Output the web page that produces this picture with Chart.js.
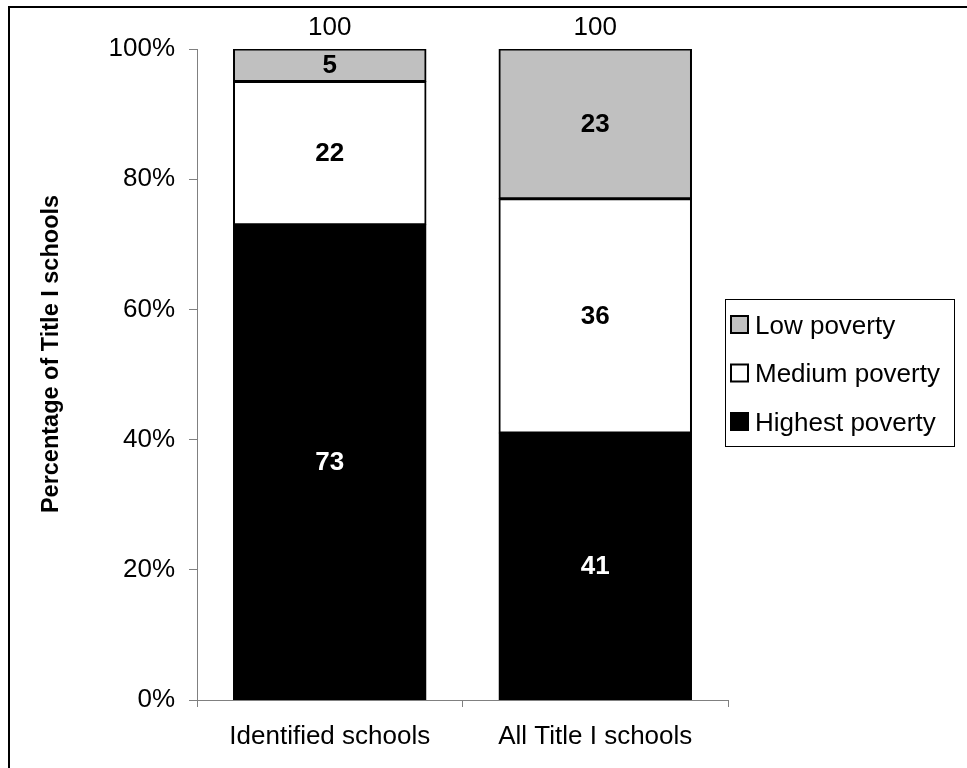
<!DOCTYPE html>
<html>
<head>
<meta charset="utf-8">
<script src="https://cdn.jsdelivr.net/npm/chart.js@4.4.1/dist/chart.umd.min.js"></script>
<style>
  html, body { margin: 0; padding: 0; background: #fff; }
  #wrap { position: relative; width: 967px; height: 768px; }
</style>
</head>
<body>
<div id="wrap"><canvas id="c"></canvas></div>
<script>
// ---- Data ----
const categories = ['Identified schools', 'All Title I schools'];
const highestPoverty = [73, 41];
const mediumPoverty = [22, 36];
const lowPoverty = [5, 23];
const seriesNames = ['Highest poverty', 'Medium poverty', 'Low poverty'];
const yTickValues = [0, 20, 40, 60, 80, 100];
const yAxisTitle = 'Percentage of Title I schools';

const FONT = "Arial, 'Liberation Sans', Helvetica, sans-serif";
const colors = ['#000000', '#FFFFFF', '#C0C0C0'];
const labelColors = ['#FFFFFF', '#000000', '#000000'];

const datasets = [highestPoverty, mediumPoverty, lowPoverty].map((d, i) => ({
  label: seriesNames[i],
  data: d,
  backgroundColor: colors[i],
  borderColor: '#000000',
  borderWidth: 2,
  borderSkipped: false,
  inflateAmount: 0.5,
  barPercentage: 0.725,
  categoryPercentage: 1.0
}));

const framePlugin = {
  id: 'frame',
  afterDraw(chart) {
    const ctx = chart.ctx;
    ctx.save();
    ctx.fillStyle = '#000';
    ctx.fillRect(8, 6, chart.width - 8, 2);
    ctx.fillRect(8, 6, 2, chart.height - 6);
    ctx.restore();
  }
};

const labelsPlugin = {
  id: 'segLabels',
  afterDatasetsDraw(chart) {
    const ctx = chart.ctx;
    ctx.save();
    ctx.font = 'bold 26px ' + FONT;
    ctx.textAlign = 'center';
    ctx.textBaseline = 'middle';
    chart.data.datasets.forEach((ds, di) => {
      const meta = chart.getDatasetMeta(di);
      meta.data.forEach((bar, i) => {
        const p = bar.getProps(['x', 'y', 'base'], true);
        ctx.fillStyle = labelColors[di];
        ctx.fillText(String(ds.data[i]), p.x, (p.y + p.base) / 2 + 1);
      });
    });
    // totals above bars
    ctx.font = '26px ' + FONT;
    ctx.fillStyle = '#000';
    ctx.textBaseline = 'alphabetic';
    const last = chart.data.datasets.length - 1;
    const topMeta = chart.getDatasetMeta(last);
    topMeta.data.forEach((bar, i) => {
      let total = 0;
      chart.data.datasets.forEach(ds => { total += ds.data[i]; });
      const p = bar.getProps(['x', 'y'], true);
      ctx.fillText(String(total), p.x, p.y - 14.5);
    });
    ctx.restore();
  }
};

const titlePlugin = {
  id: 'yTitle',
  afterDraw(chart) {
    const ctx = chart.ctx;
    ctx.save();
    ctx.translate(57.5, 354);
    ctx.rotate(-Math.PI / 2);
    ctx.font = 'bold 23.5px ' + FONT;
    ctx.fillStyle = '#000';
    ctx.textAlign = 'center';
    ctx.textBaseline = 'alphabetic';
    ctx.fillText(yAxisTitle, 0, 0);
    ctx.restore();
  }
};

const legendPlugin = {
  id: 'boxLegend',
  afterDraw(chart) {
    const ctx = chart.ctx;
    ctx.save();
    ctx.strokeStyle = '#000';
    ctx.lineWidth = 1;
    ctx.strokeRect(725.5, 299.5, 229, 147);
    ctx.font = '26px ' + FONT;
    ctx.textAlign = 'left';
    ctx.textBaseline = 'alphabetic';
    const items = chart.data.datasets.map((ds, i) => ({ text: ds.label, fill: ds.backgroundColor })).reverse();
    items.forEach((it, k) => {
      const cy = 324.5 + k * 48.5;
      ctx.fillStyle = it.fill;
      ctx.fillRect(731, cy - 8.5, 17, 17);
      ctx.lineWidth = 2;
      ctx.strokeStyle = '#000';
      ctx.strokeRect(731, cy - 8.5, 17, 17);
      ctx.fillStyle = '#000';
      ctx.fillText(it.text, 755, cy + 9);
    });
    ctx.restore();
  }
};

new Chart(document.getElementById('c'), {
  type: 'bar',
  data: { labels: categories, datasets },
  options: {
    responsive: true,
    maintainAspectRatio: false,
    animation: false,
    events: [],
    layout: { padding: { top: 49, right: 239, bottom: 0, left: 0 } },
    plugins: {
      legend: { display: false },
      tooltip: { enabled: false },
      title: { display: false }
    },
    scales: {
      x: {
        stacked: true,
        offset: true,
        grid: {
          display: true,
          offset: true,
          drawOnChartArea: false,
          drawTicks: true,
          tickLength: 7,
          color: '#808080',
          lineWidth: 1
        },
        border: { display: true, color: '#808080', width: 1 },
        ticks: {
          color: '#000',
          font: { family: FONT, size: 26 },
          padding: 14,
          maxRotation: 0,
          autoSkip: false
        },
        afterFit(scale) { scale.height = 68; }
      },
      y: {
        stacked: true,
        min: 0,
        max: 100,
        afterBuildTicks(scale) { scale.ticks = yTickValues.map(v => ({ value: v })); },
        grid: {
          display: true,
          drawOnChartArea: false,
          drawTicks: true,
          tickLength: 8,
          color: '#808080',
          lineWidth: 1
        },
        border: { display: true, color: '#808080', width: 1 },
        ticks: {
          color: '#000',
          font: { family: FONT, size: 26 },
          padding: 14,
          callback: v => v + '%'
        },
        afterFit(scale) { scale.width = 197; }
      }
    }
  },
  plugins: [framePlugin, labelsPlugin, titlePlugin, legendPlugin]
});
</script>
</body>
</html>
